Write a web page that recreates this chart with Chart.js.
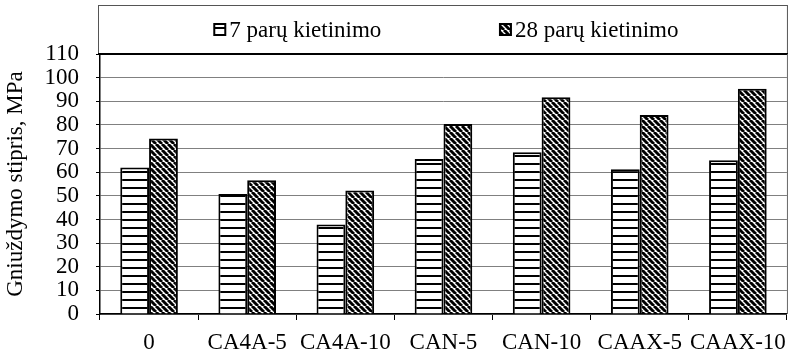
<!DOCTYPE html>
<html>
<head>
<meta charset="utf-8">
<script src="https://cdn.jsdelivr.net/npm/chart.js@4"></script>
<style>
    html, body { margin: 0; padding: 0; background: #fff; }
    .wrap { width: 795px; height: 356px; position: relative; }
</style>
</head>
<body>
<div class="wrap"><canvas id="chart"></canvas></div>
<script>
const categories = ["0", "CA4A-5", "CA4A-10", "CAN-5", "CAN-10", "CAAX-5", "CAAX-10"];
const seriesNames = ["7 parų kietinimo", "28 parų kietinimo"];
const days7 = [62.0, 50.8, 37.9, 65.6, 68.4, 61.2, 65.1];
const days28 = [74.2, 56.6, 52.2, 80.4, 91.7, 84.2, 95.3];
const yMin = 0, yMax = 110, yStep = 10;
const yTitle = "Gniuždymo stipris, MPa";

const FONT = '"Liberation Serif", "Times New Roman", serif';
const FONT_SIZE = 23;

// horizontal stripes for the 7 day bars
function stripePattern() {
    const c = document.createElement("canvas");
    c.width = 8; c.height = 8;
    const g = c.getContext("2d");
    g.fillStyle = "#fff";
    g.fillRect(0, 0, 8, 8);
    g.fillStyle = "#000";
    g.fillRect(0, 3, 8, 2);
    return g.createPattern(c, "repeat");
}

// downward diagonal for the 28 day bars
function diagPattern() {
    const n = 6;
    const c = document.createElement("canvas");
    c.width = n; c.height = n;
    const g = c.getContext("2d");
    g.fillStyle = "#fff";
    g.fillRect(0, 0, n, n);
    g.strokeStyle = "#000";
    g.lineWidth = 3;
    for (let k = -1; k <= 1; k++) {
        g.beginPath();
        g.moveTo(k * n, 0);
        g.lineTo(k * n + n, n);
        g.stroke();
    }
    return g.createPattern(c, "repeat");
}

const fills = [stripePattern(), diagPattern()];

const frame = {
    id: "frame",
    afterDraw(chart) {
        const ctx = chart.ctx;
        const a = chart.chartArea;
        ctx.save();
        // legend box
        const bx = a.left - 2, by = 5, bw = a.right - bx, bh = a.top - by;
        ctx.strokeStyle = "#555";
        ctx.lineWidth = 1;
        ctx.strokeRect(bx + 0.5, by + 0.5, bw, bh);
        ctx.strokeStyle = "#000";
        ctx.lineWidth = 2;
        ctx.beginPath();
        ctx.moveTo(bx, a.top);
        ctx.lineTo(a.right + 1, a.top);
        ctx.stroke();
        // right edge of the plot
        ctx.strokeStyle = "#666";
        ctx.lineWidth = 1;
        ctx.beginPath();
        ctx.moveTo(a.right + 0.5, a.top);
        ctx.lineTo(a.right + 0.5, a.bottom);
        ctx.stroke();

        // legend items
        const centers = [0.29, 0.713];
        const cy = by + bh / 2;
        ctx.font = FONT_SIZE + "px " + FONT;
        ctx.textBaseline = "middle";
        chart.data.datasets.forEach((ds, i) => {
            const tw = ctx.measureText(ds.label).width;
            const total = 11 + 4 + tw;
            const x0 = bx + bw * centers[i] - total / 2;
            ctx.fillStyle = ds.backgroundColor;
            ctx.fillRect(x0, cy - 5.5, 11, 11);
            ctx.strokeStyle = "#000";
            ctx.lineWidth = 2;
            ctx.strokeRect(x0, cy - 5.5, 11, 11);
            ctx.fillStyle = "#000";
            ctx.fillText(ds.label, x0 + 15, cy + 1);
        });
        ctx.restore();
    }
};

Chart.defaults.font.family = FONT;
Chart.defaults.font.size = FONT_SIZE;
Chart.defaults.color = "#000";

new Chart(document.getElementById("chart"), {
    type: "bar",
    data: {
        labels: categories,
        datasets: [
            { label: seriesNames[0], data: days7, backgroundColor: fills[0] },
            { label: seriesNames[1], data: days28, backgroundColor: fills[1] }
        ].map(ds => Object.assign(ds, {
            borderColor: "#000",
            borderWidth: 2,
            borderSkipped: "bottom",
            categoryPercentage: 0.587,
            barPercentage: 1
        }))
    },
    options: {
        responsive: true,
        maintainAspectRatio: false,
        animation: false,
        layout: { padding: { top: 54, left: 0, right: 3, bottom: 0 } },
        plugins: {
            legend: { display: false },
            tooltip: { enabled: false }
        },
        scales: {
            x: {
                afterFit(scale) { scale.height = 42; },
                grid: {
                    display: true,
                    drawOnChartArea: false,
                    offset: true,
                    tickLength: 6,
                    color: "#000",
                    tickColor: "#000"
                },
                border: { color: "#000", width: 1.5 },
                ticks: { autoSkip: false, maxRotation: 0, padding: 9 }
            },
            y: {
                min: yMin,
                max: yMax,
                afterFit(scale) { scale.width = 100; },
                ticks: { stepSize: yStep, autoSkip: false, padding: 17 },
                grid: { color: "#808080", tickColor: "#000", tickLength: 4 },
                border: { color: "#000", width: 1.5 },
                title: {
                    display: true,
                    text: yTitle,
                    font: { size: FONT_SIZE },
                    padding: { top: 2, bottom: 0 }
                }
            }
        }
    },
    plugins: [frame]
});
</script>
</body>
</html>
